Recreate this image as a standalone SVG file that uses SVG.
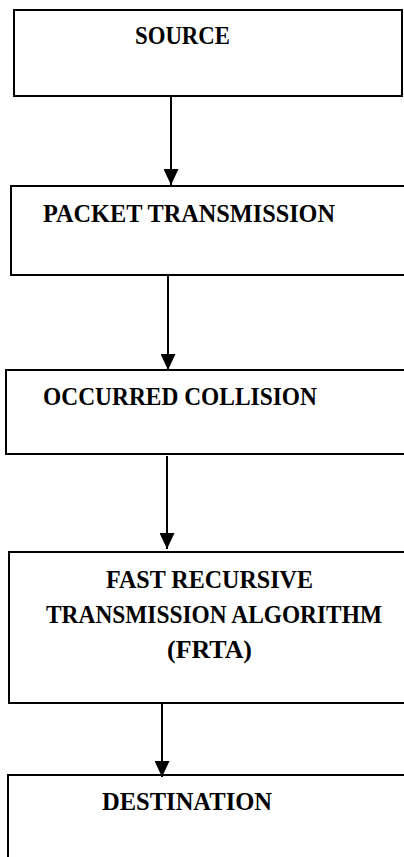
<svg xmlns="http://www.w3.org/2000/svg" width="404" height="857" viewBox="0 0 404 857">
<defs>
<style>
.box{fill:#fff;stroke:#000;stroke-width:2}
.lbl{font-family:"Liberation Serif","DejaVu Serif",serif;font-weight:bold;font-size:25px;fill:#000}
.edge{stroke:#000;stroke-width:2;fill:none}
</style>
<marker id="ah" viewBox="0 0 16 15" refX="16" refY="7.5" markerWidth="16" markerHeight="15" markerUnits="userSpaceOnUse" orient="auto">
<path d="M0,0 L16,7.5 L0,15 Z" fill="#000"/>
</marker>
</defs>
<rect width="404" height="857" fill="#fff"/>
<g id="source">
<rect class="box" x="14" y="10" width="388" height="86"/>
<text class="lbl" x="135" y="44" textLength="95" lengthAdjust="spacingAndGlyphs">SOURCE</text>
</g>
<g id="packet-transmission">
<rect class="box" x="11" y="186" width="400" height="89"/>
<text class="lbl" x="43" y="222" textLength="292" lengthAdjust="spacingAndGlyphs">PACKET TRANSMISSION</text>
</g>
<g id="occurred-collision">
<rect class="box" x="6" y="370" width="405" height="84"/>
<text class="lbl" x="43" y="405" textLength="274" lengthAdjust="spacingAndGlyphs">OCCURRED COLLISION</text>
</g>
<g id="frta">
<rect class="box" x="9" y="552" width="402" height="151"/>
<text class="lbl" x="106" y="588" textLength="207" lengthAdjust="spacingAndGlyphs">FAST RECURSIVE</text>
<text class="lbl" x="46" y="623" textLength="336" lengthAdjust="spacingAndGlyphs">TRANSMISSION ALGORITHM</text>
<text class="lbl" x="167" y="658" textLength="85" lengthAdjust="spacingAndGlyphs">(FRTA)</text>
</g>
<g id="destination">
<rect class="box" x="8" y="775" width="403" height="100"/>
<text class="lbl" x="102" y="810" textLength="170" lengthAdjust="spacingAndGlyphs">DESTINATION</text>
</g>
<g id="connectors">
<line class="edge" x1="171" y1="96" x2="171" y2="185" marker-end="url(#ah)"/>
<line class="edge" x1="168" y1="276" x2="168" y2="370" marker-end="url(#ah)"/>
<line class="edge" x1="167" y1="456" x2="167" y2="549" marker-end="url(#ah)"/>
<line class="edge" x1="162" y1="704" x2="162" y2="777" marker-end="url(#ah)"/>
</g>
</svg>
